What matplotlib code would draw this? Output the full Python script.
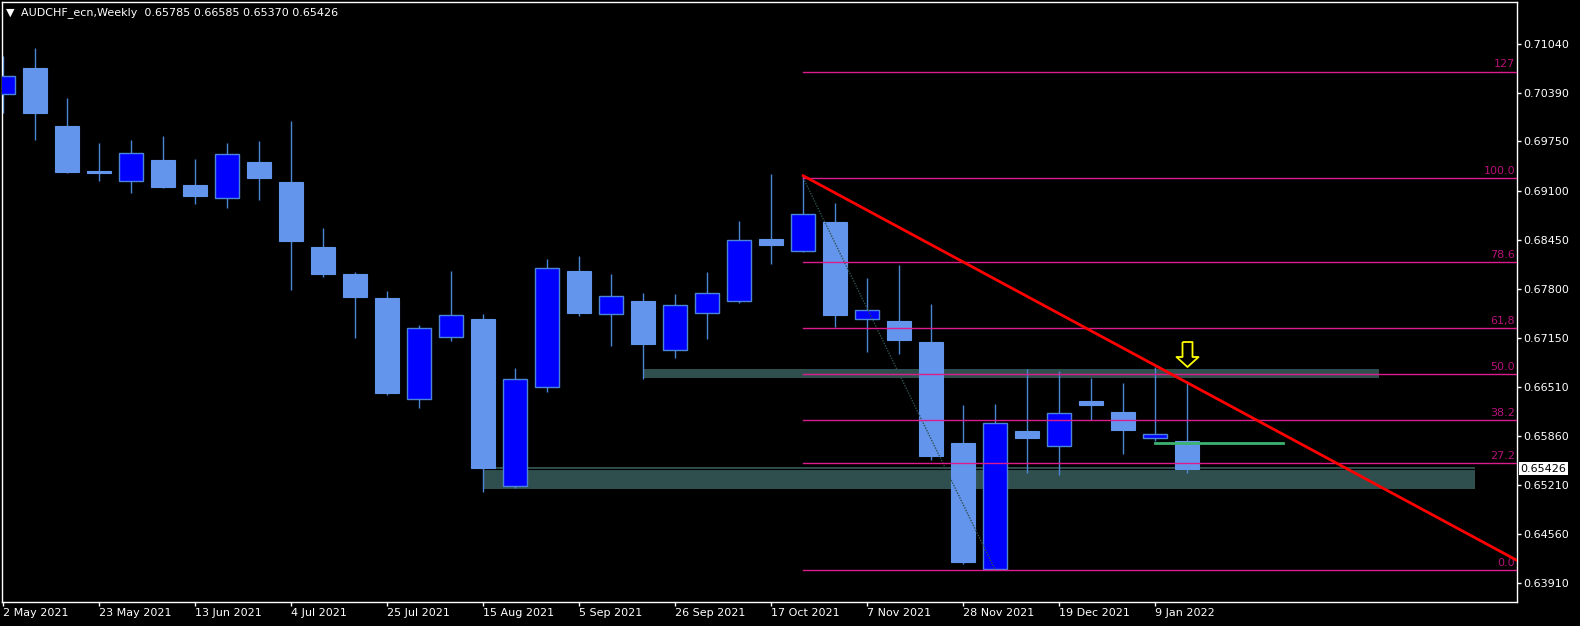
import numpy as np
import matplotlib.pyplot as plt
from matplotlib.path import Path

# weekly AUDCHF_ecn candles, week of 2 May 2021 .. 16 Jan 2022
opens = [0.70370, 0.70723, 0.69956, 0.69361, 0.69220, 0.69506, 0.69176, 0.68995, 0.69480, 0.69216,
         0.68356, 0.67999, 0.67682, 0.66351, 0.67170, 0.67404, 0.65200, 0.66509, 0.68039, 0.67474,
         0.67642, 0.66998, 0.67488, 0.67646, 0.68462, 0.68299, 0.68687, 0.67400, 0.67378, 0.67100,
         0.65765, 0.64099, 0.65924, 0.65721, 0.66320, 0.66175, 0.65835, 0.65785]
highs = [0.70881, 0.70983, 0.70326, 0.69731, 0.69771, 0.69824, 0.69520, 0.69731, 0.69758, 0.70022,
         0.68607, 0.68026, 0.67774, 0.67325, 0.68039, 0.67470, 0.66756, 0.68198, 0.68237, 0.67999,
         0.67748, 0.67735, 0.68026, 0.68700, 0.69321, 0.69290, 0.68938, 0.67946, 0.68118, 0.67603,
         0.66267, 0.66280, 0.66743, 0.66717, 0.66624, 0.66558, 0.66770, 0.66585]
lows = [0.70119, 0.69762, 0.69325, 0.69229, 0.69061, 0.69127, 0.68925, 0.68872, 0.68978, 0.67788,
        0.67960, 0.67153, 0.66399, 0.66228, 0.67117, 0.65117, 0.65170, 0.66439, 0.67444, 0.67047,
        0.66611, 0.66889, 0.67140, 0.67616, 0.68131, 0.68290, 0.67302, 0.66972, 0.66945, 0.65540,
        0.64169, 0.64086, 0.65372, 0.65342, 0.66069, 0.65619, 0.65791, 0.65370]
closes = [0.70613, 0.70119, 0.69348, 0.69335, 0.69595, 0.69149, 0.69030, 0.69582, 0.69268, 0.68436,
          0.67999, 0.67695, 0.66426, 0.67281, 0.67453, 0.65434, 0.66607, 0.68075, 0.67484, 0.67704,
          0.67074, 0.67585, 0.67744, 0.68445, 0.68383, 0.68788, 0.67461, 0.67519, 0.67127, 0.65593,
          0.64191, 0.66025, 0.65835, 0.66158, 0.66267, 0.65937, 0.65884, 0.65426]

date_ticks = [0, 3, 6, 9, 12, 15, 18, 21, 24, 27, 30, 33, 36]
date_labels = ["2 May 2021", "23 May 2021", "13 Jun 2021", "4 Jul 2021", "25 Jul 2021",
               "15 Aug 2021", "5 Sep 2021", "26 Sep 2021", "17 Oct 2021", "7 Nov 2021",
               "28 Nov 2021", "19 Dec 2021", "9 Jan 2022"]
price_ticks = [0.71040, 0.70390, 0.69750, 0.69100, 0.68450, 0.67800, 0.67150,
               0.66510, 0.65860, 0.65210, 0.64560, 0.63910]

# fibonacci retracement
fib_start, fib_end = 25, 31
fib_high, fib_low = 0.69264, 0.64086
fib_levels = [0.0, 27.2, 38.2, 50.0, 61.8, 78.6, 100.0, 127.2]
fib_labels = ["0.0", "27.2", "38.2", "50.0", "61,8", "78.6", "100.0", "127"]

# drawn objects
trend_x = [25, 37]
trend_y = [0.69295, 0.66561]
green_x = [36, 40]
green_y = 0.65770
zone_upper = (20, 43, 0.66624, 0.66743)
zone_lower = (15, 46, 0.65157, 0.65448)
arrow_x, arrow_y = 37, 0.66939
last_price = 0.65426

W, H = 1580, 626
fig = plt.figure(figsize=(W / 100, H / 100), dpi=100, facecolor='black')
ax = fig.add_axes([2 / W, 24 / H, 1514.5 / W, 600 / H], facecolor='black')
xlim = (-0.04, 47.29)
ax.set_xlim(*xlim)
ax.set_ylim(0.63663, 0.71591)

# zones
for x0, x1, lo, hi in (zone_upper, zone_lower):
    ax.fill_between([x0, x1], lo, hi, color='#2F4F4F', lw=0, zorder=1)
ax.axhline(last_price, color='black', lw=0.8, zorder=1.5)

# candles
x = np.arange(len(opens))
o = np.array(opens); c = np.array(closes)
bull = c >= o
wick = '#4D85D6'
ax.vlines(x, lows, highs, color=wick, lw=1, zorder=2)
ax.bar(x[bull], (c - o)[bull], bottom=o[bull], width=0.74, color='#0000FF',
       edgecolor=wick, linewidth=1, zorder=3)
ax.bar(x[~bull], (o - c)[~bull], bottom=c[~bull], width=0.76, color='#6495ED',
       edgecolor='#6495ED', linewidth=0.8, zorder=3)

# fibo
ax.plot([fib_start, fib_end], [fib_high, fib_low], color='#2F4F4F', lw=1,
        ls=(0, (1, 1)), zorder=4)
for lev, lab in zip(fib_levels, fib_labels):
    p = fib_low + (fib_high - fib_low) * lev / 100
    ax.plot([fib_start, xlim[1]], [p, p], color='#DC1C8C', lw=1, zorder=4)
    ax.annotate(lab, xy=(xlim[1], p), xytext=(-1, 1.5), textcoords='offset points',
                ha='right', va='bottom', color='#B8127A', fontsize=8, zorder=5)

# trend line (ray) and green line
slope = (trend_y[1] - trend_y[0]) / (trend_x[1] - trend_x[0])
ax.plot([trend_x[0], xlim[1]], [trend_y[0], trend_y[0] + slope * (xlim[1] - trend_x[0])],
        color='#FF0000', lw=2, zorder=6)
ax.plot(green_x, [green_y, green_y], color='#3CB371', lw=2, zorder=6)

# yellow down arrow
arrow = Path([(-0.4, 1), (0.4, 1), (0.4, -0.2), (0.88, -0.2), (0, -1),
              (-0.88, -0.2), (-0.4, -0.2), (-0.4, 1)])
ax.plot(arrow_x, arrow_y, marker=arrow, ms=18, mfc='black', mec='#FFFF00', mew=1.3, zorder=7)

# axes styling
for s in ax.spines.values():
    s.set_color('white')
    s.set_linewidth(1)
ax.yaxis.tick_right()
ax.set_yticks(price_ticks)
ax.set_yticklabels([f"{v:.5f}" for v in price_ticks])
ax.set_xticks(date_ticks)
ax.set_xticklabels(date_labels)
ax.tick_params(colors='white', labelsize=8, length=3, width=1)
ax.tick_params(axis='y', pad=2)
ax.tick_params(axis='x', pad=1)
plt.setp(ax.get_xticklabels(), ha='left')

ax.annotate(f"{last_price:.5f}", xy=(1, last_price), xycoords=('axes fraction', 'data'),
            xytext=(3, 0), textcoords='offset points', ha='left', va='center',
            color='black', fontsize=8, annotation_clip=False,
            bbox=dict(boxstyle='square,pad=0.12', fc='white', ec='none'))

fig.text(6 / W, 1 - 12.5 / H, "\u25bc", color='white', fontsize=8, va='center')
fig.text(21 / W, 1 - 12.5 / H, "AUDCHF_ecn,Weekly  0.65785 0.66585 0.65370 0.65426",
         color='white', fontsize=8, va='center')

plt.savefig("out.png", dpi=100, facecolor='black')
